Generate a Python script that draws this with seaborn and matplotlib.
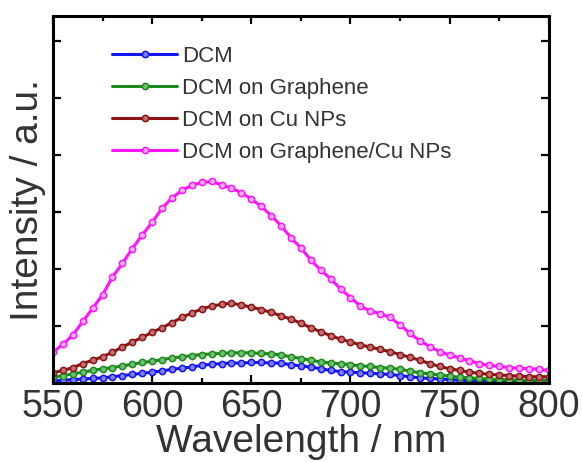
import numpy as np
import pandas as pd
import seaborn as sns
import matplotlib.pyplot as plt
from matplotlib.ticker import MultipleLocator, NullFormatter

# Data (arbitrary intensity units, 5 nm step)
wavelength = list(range(550, 801, 5))

dcm = [0.04, 0.05, 0.06, 0.07, 0.08, 0.09, 0.11, 0.13, 0.15, 0.17,
       0.19, 0.21, 0.24, 0.26, 0.28, 0.31, 0.33, 0.34, 0.35, 0.35,
       0.36, 0.36, 0.35, 0.35, 0.32, 0.30, 0.28, 0.25, 0.22, 0.20,
       0.19, 0.18, 0.17, 0.16, 0.15, 0.13, 0.11, 0.09, 0.08, 0.07,
       0.06, 0.05, 0.04, 0.04, 0.03, 0.03, 0.03, 0.03, 0.03, 0.03, 0.03]

dcm_graphene = [0.10, 0.13, 0.16, 0.19, 0.22, 0.25, 0.27, 0.30, 0.33, 0.36,
                0.38, 0.41, 0.44, 0.46, 0.48, 0.50, 0.51, 0.52, 0.53, 0.53,
                0.53, 0.52, 0.51, 0.49, 0.46, 0.43, 0.40, 0.37, 0.35, 0.34,
                0.32, 0.30, 0.29, 0.27, 0.26, 0.24, 0.21, 0.18, 0.16, 0.14,
                0.12, 0.10, 0.09, 0.08, 0.07, 0.06, 0.06, 0.05, 0.05, 0.05, 0.05]

dcm_cu = [0.18, 0.22, 0.27, 0.34, 0.40, 0.46, 0.54, 0.63, 0.72, 0.80,
          0.89, 0.97, 1.06, 1.15, 1.23, 1.30, 1.35, 1.38, 1.40, 1.37,
          1.33, 1.29, 1.24, 1.18, 1.12, 1.05, 0.97, 0.90, 0.83, 0.77,
          0.72, 0.67, 0.63, 0.59, 0.55, 0.50, 0.45, 0.40, 0.34, 0.29,
          0.25, 0.22, 0.19, 0.17, 0.15, 0.14, 0.13, 0.12, 0.11, 0.11, 0.11]

dcm_graphene_cu = [0.54, 0.68, 0.84, 1.08, 1.31, 1.55, 1.86, 2.10, 2.36, 2.60,
                   2.82, 3.07, 3.25, 3.38, 3.47, 3.52, 3.54, 3.48, 3.42, 3.34,
                   3.23, 3.10, 2.94, 2.76, 2.55, 2.37, 2.16, 1.98, 1.83, 1.65,
                   1.50, 1.35, 1.26, 1.22, 1.15, 1.02, 0.87, 0.74, 0.64, 0.55,
                   0.49, 0.44, 0.39, 0.34, 0.31, 0.29, 0.27, 0.26, 0.25, 0.24, 0.22]

labels = ['DCM', 'DCM on Graphene', 'DCM on Cu NPs', 'DCM on Graphene/Cu NPs']
colors = ['#1414f0', '#1c8a1c', '#8c1414', '#ff14ff']
faces = ['#8080ff', '#70c070', '#c07070', '#ffb0ff']
series = [dcm, dcm_graphene, dcm_cu, dcm_graphene_cu]

sns.set_theme(style='ticks')
plt.rcParams['font.family'] = ['Liberation Sans', 'DejaVu Sans']
txtCol = '#333333'

fig = plt.figure(figsize=(5.82, 4.62), dpi=100)
ax = fig.add_axes([0.091, 0.171, 0.852, 0.794])

for vals, lab, c, fc in zip(series, labels, colors, faces):
    sns.lineplot(x=wavelength, y=vals, ax=ax, color=c, label=lab, linewidth=2.2,
                 marker='o', markersize=4.5, markerfacecolor=fc, markeredgecolor=c,
                 markeredgewidth=1.1)

ax.set_xlim(550, 800)
ax.set_ylim(0, 6.44)
ax.xaxis.set_major_locator(MultipleLocator(50))
ax.xaxis.set_minor_locator(MultipleLocator(25))
ax.yaxis.set_major_locator(MultipleLocator(1))
ax.yaxis.set_major_formatter(NullFormatter())
ax.tick_params(which='both', direction='in', top=True, right=True, width=1.6,
               colors='black', labelcolor=txtCol, labelsize=27, pad=4)
ax.tick_params(which='major', length=6)
ax.tick_params(which='minor', length=3.5)
for sp in ax.spines.values():
    sp.set_linewidth(2.2)
    sp.set_color('black')

ax.set_xlabel('Wavelength / nm', fontsize=28, color=txtCol, labelpad=-0.5)
ax.set_ylabel('Intensity / a.u.', fontsize=28, color=txtCol, labelpad=1)

handles, labs = ax.get_legend_handles_labels()
ax.legend(handles, labs, loc='upper left', bbox_to_anchor=(0.12, 0.92), frameon=False,
          fontsize=16, handlelength=2.9, handletextpad=0.25, labelspacing=0.5,
          borderaxespad=0, borderpad=0, labelcolor=txtCol)

fig.savefig('out.png', dpi=100)
